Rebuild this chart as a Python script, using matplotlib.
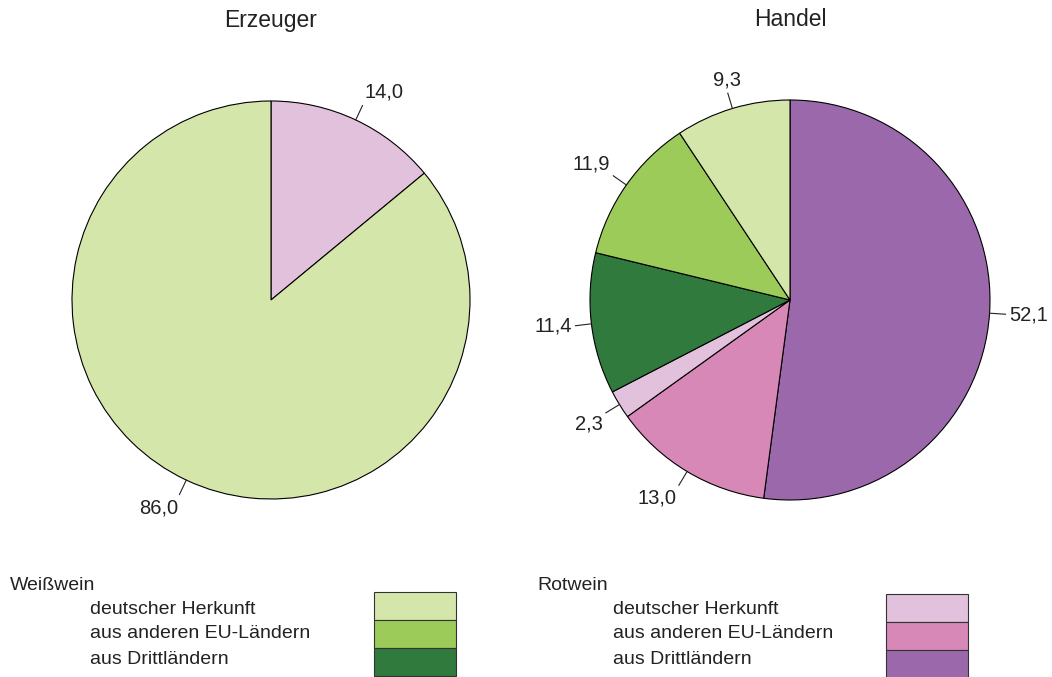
import numpy as np
import matplotlib
matplotlib.use('Agg')
import matplotlib.pyplot as plt
from matplotlib.patches import Rectangle

plt.rcParams['font.family'] = ['Liberation Sans', 'DejaVu Sans']

W, H = 1052, 677

# data
titles = ['Erzeuger', 'Handel']
erzeuger_vals = [14.0, 86.0]
erzeuger_cols = ['#e2c1dc', '#d5e6ab']
handel_vals = [52.1, 13.0, 2.3, 11.4, 11.9, 9.3]
handel_cols = ['#9b69ab', '#d788b7', '#e2c1dc', '#2f7a3c', '#9ccb5a', '#d5e6ab']

legend_groups = ['Weißwein', 'Rotwein']
legend_items = ['deutscher Herkunft', 'aus anderen EU-Ländern', 'aus Drittländern']
weiss_cols = ['#d5e6ab', '#9ccb5a', '#2f7a3c']
rot_cols = ['#e2c1dc', '#d788b7', '#9b69ab']

fig = plt.figure(figsize=(W / 100, H / 100), dpi=100)


def pie_axes(cx, cy, r, lim=1.3):
    # cx, cy in pixels from top-left, r pixel radius
    half = r * lim
    return fig.add_axes([(cx - half) / W, (H - cy - half) / H, 2 * half / W, 2 * half / H])


def draw_pie(ax, vals, cols):
    ax.pie(vals, colors=cols, startangle=90, counterclock=False, radius=1.0,
           wedgeprops=dict(edgecolor='black', linewidth=0.8))
    ax.set_xlim(-1.3, 1.3)
    ax.set_ylim(-1.3, 1.3)
    ax.set_aspect('equal')
    ax.axis('off')
    cum = 0
    for v in vals:
        mid = (cum + v / 2) / 100 * 2 * np.pi
        cum += v
        dx, dy = np.sin(mid), np.cos(mid)
        ax.plot([dx, dx * 1.08], [dy, dy * 1.08], color='#222222', lw=0.8)
        ha = 'left' if dx > 0.3 else ('right' if dx < -0.3 else 'center')
        va = 'bottom' if dy > 0.3 else ('top' if dy < -0.3 else 'center')
        ax.text(dx * 1.1, dy * 1.1, f'{v:.1f}'.replace('.', ','), ha=ha, va=va,
                fontsize=14.5, color='#222222')


ax1 = pie_axes(271, 300, 199)
draw_pie(ax1, erzeuger_vals, erzeuger_cols)
ax2 = pie_axes(790, 300, 200)
draw_pie(ax2, handel_vals, handel_cols)

fig.text(271 / W, 1 - 20 / H, titles[0], ha='center', va='center', fontsize=16.5, color='#222222')
fig.text(790 / W, 1 - 20 / H, titles[1], ha='center', va='center', fontsize=16.5, color='#222222')

# legend
for gx, ix, bx, by, cols, name in [(10, 90, 374, 592, weiss_cols, legend_groups[0]),
                                    (537, 613, 886, 594, rot_cols, legend_groups[1])]:
    fig.text(gx / W, 1 - 585 / H, name, ha='left', va='center', fontsize=14, color='#222222')
    for i, (lab, c) in enumerate(zip(legend_items, cols)):
        fig.text(ix / W, 1 - (609 + 25 * i) / H, lab, ha='left', va='center', fontsize=14, color='#222222')
        fig.add_artist(Rectangle((bx / W, 1 - (by + 28 * (i + 1)) / H), 82 / W, 28 / H,
                                 facecolor=c, edgecolor='#333333', linewidth=0.8,
                                 transform=fig.transFigure))

fig.savefig('out.png', dpi=100)
